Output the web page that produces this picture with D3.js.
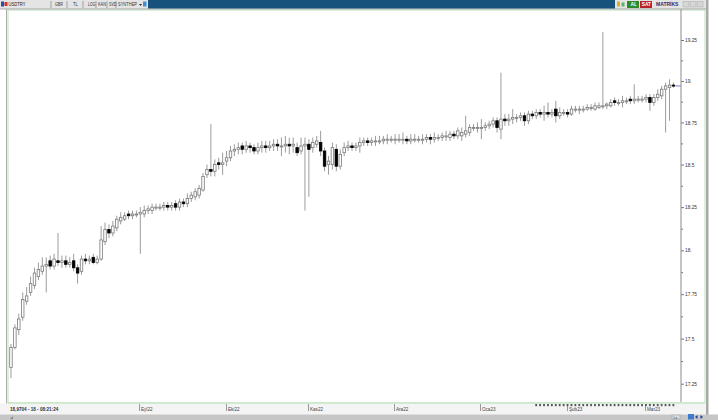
<!DOCTYPE html>
<html><head><meta charset="utf-8">
<script src="https://cdn.jsdelivr.net/npm/d3@7"></script>
<style>
html,body{margin:0;padding:0;background:#fff;overflow:hidden;}
svg{display:block;font-family:"Liberation Sans",Arial,sans-serif;}
</style></head><body>
<svg id="c" width="718" height="420"></svg>
<script>
// ---------------- DATA ----------------
const symbol = "USDTRY";
const firstDay = "2022-07-18";           // first trading day shown (weekday bars)
const barCount = 170;
const open = [17.34,17.45,17.55,17.62,17.71,17.76,17.80,17.85,17.88,17.91,
17.94,17.91,17.94,17.93,17.94,17.92,17.94,17.90,17.88,17.95,
17.94,17.96,17.93,17.95,18.05,18.12,18.10,18.13,18.17,18.18,
18.21,18.20,18.21,18.21,18.21,18.23,18.23,18.25,18.25,18.25,
18.26,18.25,18.27,18.25,18.28,18.27,18.30,18.31,18.32,18.35,
18.44,18.47,18.46,18.51,18.50,18.52,18.54,18.58,18.59,18.61,
18.59,18.61,18.60,18.58,18.60,18.61,18.60,18.61,18.62,18.61,
18.61,18.62,18.61,18.60,18.58,18.61,18.62,18.60,18.62,18.63,
18.58,18.50,18.50,18.59,18.49,18.57,18.60,18.61,18.60,18.61,
18.63,18.64,18.63,18.64,18.64,18.64,18.65,18.65,18.65,18.65,
18.65,18.65,18.64,18.65,18.65,18.65,18.65,18.66,18.65,18.66,
18.66,18.67,18.66,18.68,18.67,18.67,18.68,18.69,18.72,18.72,
18.72,18.72,18.73,18.74,18.76,18.71,18.77,18.76,18.77,18.78,
18.78,18.79,18.76,18.80,18.79,18.81,18.80,18.81,18.80,18.83,
18.79,18.81,18.81,18.80,18.83,18.83,18.83,18.83,18.84,18.83,
18.84,18.85,18.85,18.85,18.88,18.87,18.87,18.88,18.89,18.88,
18.89,18.89,18.89,18.90,18.87,18.90,18.91,18.95,18.96,18.975];
const high = [17.47,17.58,17.64,17.76,17.79,17.85,17.90,17.93,17.96,17.96,
17.97,17.98,18.10,17.97,17.97,17.96,17.98,17.92,17.97,17.98,
17.97,17.98,17.97,18.14,18.16,18.15,18.17,18.20,18.22,18.22,
18.23,18.23,18.23,18.25,18.26,18.26,18.27,18.27,18.27,18.28,
18.28,18.28,18.29,18.30,18.30,18.33,18.34,18.36,18.38,18.45,
18.50,18.74,18.53,18.54,18.57,18.58,18.61,18.62,18.63,18.63,
18.64,18.63,18.62,18.63,18.64,18.64,18.64,18.65,18.65,18.66,
18.67,18.66,18.66,18.63,18.66,18.66,18.65,18.66,18.67,18.70,
18.60,18.55,18.63,18.62,18.59,18.63,18.64,18.63,18.63,18.66,
18.66,18.66,18.66,18.67,18.67,18.67,18.68,18.67,18.68,18.68,
18.69,18.67,18.68,18.68,18.67,18.68,18.68,18.68,18.69,18.68,
18.69,18.70,18.70,18.70,18.72,18.72,18.79,18.74,18.74,18.75,
18.77,18.75,18.76,18.78,18.78,19.05,18.80,18.80,18.83,18.80,
18.81,18.81,18.82,18.82,18.83,18.83,18.85,18.87,18.83,18.88,
18.84,18.83,18.83,18.85,18.85,18.85,18.85,18.86,18.86,18.87,
18.87,19.30,18.87,18.89,18.90,18.89,18.91,18.90,18.91,18.98,
18.91,18.91,18.92,18.92,18.92,18.95,18.97,18.99,19.01,18.99];
const low = [17.28,17.44,17.52,17.60,17.69,17.74,17.78,17.83,17.86,17.76,
17.89,17.89,17.91,17.90,17.90,17.90,17.88,17.81,17.86,17.92,
17.92,17.92,17.92,17.94,18.03,18.07,18.08,18.11,18.15,18.17,
18.18,18.18,18.19,17.98,18.19,18.21,18.21,18.23,18.23,18.23,
18.23,18.23,18.23,18.23,18.25,18.25,18.28,18.29,18.30,18.34,
18.42,18.43,18.43,18.47,18.44,18.49,18.52,18.55,18.56,18.56,
18.57,18.57,18.56,18.56,18.57,18.57,18.58,18.58,18.58,18.55,
18.57,18.56,18.57,18.55,18.56,18.23,18.31,18.57,18.60,18.55,
18.46,18.44,18.47,18.46,18.47,18.55,18.58,18.58,18.58,18.57,
18.61,18.61,18.61,18.61,18.62,18.62,18.62,18.63,18.62,18.63,
18.62,18.62,18.62,18.63,18.63,18.62,18.63,18.62,18.63,18.64,
18.64,18.64,18.64,18.65,18.65,18.64,18.66,18.67,18.70,18.69,
18.65,18.70,18.71,18.72,18.69,18.65,18.73,18.73,18.74,18.75,
18.76,18.73,18.74,18.77,18.77,18.78,18.76,18.78,18.78,18.75,
18.77,18.79,18.78,18.79,18.81,18.80,18.81,18.82,18.82,18.82,
18.83,18.83,18.83,18.84,18.85,18.85,18.84,18.86,18.86,18.86,
18.87,18.87,18.87,18.82,18.85,18.88,18.89,18.69,18.76,18.96];
const close = [17.45,17.56,17.61,17.72,17.74,17.81,17.87,17.89,17.91,17.92,
17.91,17.95,17.93,17.94,17.92,17.93,17.90,17.87,17.95,17.94,
17.95,17.93,17.95,18.06,18.12,18.10,18.14,18.18,18.19,18.20,
18.20,18.21,18.21,18.22,18.23,18.24,18.25,18.25,18.25,18.26,
18.25,18.26,18.25,18.28,18.27,18.30,18.32,18.34,18.36,18.43,
18.47,18.46,18.50,18.50,18.51,18.54,18.58,18.59,18.60,18.59,
18.61,18.60,18.58,18.60,18.61,18.60,18.61,18.62,18.61,18.61,
18.62,18.61,18.62,18.57,18.61,18.62,18.59,18.63,18.64,18.58,
18.49,18.52,18.60,18.49,18.56,18.60,18.61,18.60,18.61,18.63,
18.64,18.63,18.64,18.64,18.64,18.65,18.65,18.65,18.65,18.65,
18.65,18.64,18.65,18.65,18.65,18.65,18.66,18.65,18.66,18.66,
18.67,18.67,18.68,18.67,18.70,18.69,18.70,18.72,18.72,18.72,
18.72,18.73,18.74,18.76,18.72,18.77,18.76,18.77,18.78,18.78,
18.79,18.76,18.80,18.79,18.81,18.80,18.81,18.80,18.81,18.79,
18.81,18.81,18.80,18.83,18.83,18.83,18.83,18.84,18.84,18.85,
18.85,18.85,18.86,18.87,18.87,18.87,18.88,18.88,18.88,18.89,
18.89,18.89,18.90,18.87,18.90,18.92,18.95,18.97,18.975,18.97];
const yTicks = [17.25,17.5,17.75,18,18.25,18.5,18.75,19,19.25];
const yMinorTicks = [17.375,17.625,17.875,18.125,18.375,18.625,18.875,19.125];
const monthNames = ["Oca","Şub","Mar","Nis","May","Haz","Tem","Ağu","Eyl","Eki","Kas","Ara"];
const eventFrom = 134;   // first bar with event marker on the time strip
const infoText = "18,9704 - 18 - 08:21:24";
const toolbarLeft = [["GBR",55,8],["TL",73,5],["LOG",88,7.5],["KAN",98,8],["SVD",109,7.5],["SYNTHEP",118,19]];

// ---------------- BUILD ----------------
const dates = d3.utcDay.range(new Date(firstDay+"T00:00:00Z"), new Date("2023-12-31T00:00:00Z"))
  .filter(d => d.getUTCDay() !== 0 && d.getUTCDay() !== 6).slice(0, barCount);
const bars = dates.map((d,i)=>({i, d, o:open[i], h:high[i], l:low[i], c:close[i]}));

const svg = d3.select("#c");
const PL = 8, PR = 705, PT = 10, PB = 403, AX = 681;

const x = d3.scaleBand().domain(d3.range(barCount)).range([9, 9 + barCount*3.92]).padding(0);
const y = d3.scaleLog().domain([17.25, 19.25]).range([383.7, 40]);

// background frame
svg.append("rect").attr("x",0).attr("y",0).attr("width",718).attr("height",420).attr("fill","#ffffff");
svg.append("rect").attr("x",PL).attr("y",PT).attr("width",PR-PL).attr("height",PB-PT).attr("fill","#fff")
  .attr("stroke","#b9e2b9").attr("stroke-width",1);
svg.append("line").attr("x1",6.5).attr("x2",6.5).attr("y1",9).attr("y2",414).attr("stroke","#b0b0b0");
svg.append("rect").attr("x",706).attr("y",0).attr("width",2.5).attr("height",420).attr("fill","#a9a9a9");

// bottom strip
svg.append("rect").attr("x",0).attr("y",PB+0.5).attr("width",706).attr("height",11).attr("fill","#f4f4f4");
svg.append("line").attr("x1",PL).attr("x2",PR).attr("y1",PB).attr("y2",PB).attr("stroke","#b9e2b9");
svg.append("rect").attr("x",0).attr("y",414.5).attr("width",718).attr("height",5.5).attr("fill","#c6c6c6");

// clip for plot
svg.append("clipPath").attr("id","pc").append("rect").attr("x",PL+1).attr("y",PT).attr("width",AX-PL-1).attr("height",PB-PT);
const g = svg.append("g").attr("clip-path","url(#pc)");

// candles
const cx = i => x(i) + x.bandwidth()/2;
g.selectAll("line.w").data(bars).join("line").attr("class","w")
  .attr("x1",d=>cx(d.i)).attr("x2",d=>cx(d.i))
  .attr("y1",d=>y(d.h)).attr("y2",d=>y(d.l))
  .attr("stroke","#9c9c9c").attr("stroke-width",1);
g.selectAll("rect.b").data(bars).join("rect").attr("class","b")
  .attr("x",d=>cx(d.i)-1.25).attr("width",2.5)
  .attr("y",d=>y(Math.max(d.o,d.c)))
  .attr("height",d=>Math.max(1, y(Math.min(d.o,d.c)) - y(Math.max(d.o,d.c))))
  .attr("fill",d=> d.c < d.o ? "#000" : "#fff")
  .attr("stroke",d=> d.c < d.o ? "#000" : "#7a7a7a").attr("stroke-width",0.8);

// last price marker
const last = bars[bars.length-1];
svg.append("line").attr("x1",cx(last.i)+2).attr("x2",AX).attr("y1",y(last.c)).attr("y2",y(last.c))
  .attr("stroke","#7f7fc8").attr("stroke-width",1);

// right axis
const fmt = v => Number.isInteger(v) ? v + "." : String(v);
const ya = svg.append("g").attr("transform",`translate(${AX},0)`)
  .call(d3.axisRight(y).tickValues(yTicks).tickSize(3).tickPadding(1).tickFormat(fmt));
ya.select(".domain").remove();
ya.selectAll("text").attr("font-size","4.8px").attr("fill","#333").attr("font-family","Liberation Sans, Arial, sans-serif");
ya.selectAll("line").attr("stroke","#777");
const ym = svg.append("g").attr("transform",`translate(${AX},0)`)
  .call(d3.axisRight(y).tickValues(yMinorTicks).tickSize(2).tickFormat(""));
ym.select(".domain").remove();
ym.selectAll("line").attr("stroke","#777");
svg.append("line").attr("x1",AX).attr("x2",AX).attr("y1",PT-1).attr("y2",PB-1).attr("stroke","#8a8a8a");

// time axis: first trading day of each month (the first one sits under the info box)
const monthStarts = bars.filter((b,k)=> k>0 && b.d.getUTCMonth() !== bars[k-1].d.getUTCMonth())
  .filter(b => x(b.i) > 75);
const xa = svg.append("g");
monthStarts.forEach(b=>{
  const px = Math.round(x(b.i)) + 1.5;
  xa.append("line").attr("x1",px).attr("x2",px).attr("y1",PB+1).attr("y2",PB+8).attr("stroke","#999");
  xa.append("text").attr("x",px+1.5).attr("y",PB+7.5).attr("font-size","4.6px").attr("fill","#444")
    .text(monthNames[b.d.getUTCMonth()] + String(b.d.getUTCFullYear()).slice(2));
});
// event markers
xa.selectAll("rect.ev").data(bars.filter(b=>b.i>=eventFrom)).join("rect").attr("class","ev")
  .attr("x",d=>x(d.i)+1).attr("y",PB+1).attr("width",1.8).attr("height",2.2).attr("fill","#555");

// info box
svg.append("text").attr("x",10).attr("y",PB+7.5).attr("font-size","4.6px").attr("font-weight","bold")
  .attr("fill","#333").text(infoText);
svg.append("path").attr("d","M10,419 L13,416 L13,419 Z").attr("fill","#888");

// bottom-right controls
svg.append("rect").attr("x",672).attr("y",415).attr("width",8).attr("height",4).attr("fill","#ddd").attr("stroke","#999").attr("stroke-width",0.5);
svg.append("text").attr("x",673.5).attr("y",418.5).attr("font-size","3.5px").attr("fill","#333").text("Lx");
svg.append("rect").attr("x",688).attr("y",414).attr("width",6).attr("height",5.5).attr("fill","#3d7bd0");
svg.append("path").attr("d","M695,417 l2.5,-2 v4 z M703,417 l-2.5,-2 v4 z").attr("fill","#1e3f9a");

// ---------------- TOOLBAR ----------------
const tb = svg.append("g");
tb.append("rect").attr("x",0).attr("y",0).attr("width",706).attr("height",9).attr("fill","#e4e4e4");
tb.append("line").attr("x1",0).attr("x2",706).attr("y1",9).attr("y2",9).attr("stroke","#a8a8a8");
tb.append("rect").attr("x",1).attr("y",1.5).attr("width",3).attr("height",5).attr("fill","#2a4fa8");
tb.append("rect").attr("x",4.5).attr("y",2).attr("width",3).attr("height",4).attr("fill","#d23030");
tb.append("text").attr("x",8.5).attr("y",6.2).attr("font-size","4.5px").attr("fill","#222")
  .attr("textLength",17).attr("lengthAdjust","spacingAndGlyphs").text(symbol);
[51,67,83,96,107,116].forEach(s=> tb.append("line").attr("x1",s).attr("x2",s).attr("y1",1).attr("y2",8).attr("stroke","#a0a0a0"));
toolbarLeft.forEach(([t,px,w])=> tb.append("text").attr("x",px).attr("y",6.2).attr("font-size","4.5px").attr("fill","#333")
  .attr("textLength",w).attr("lengthAdjust","spacingAndGlyphs").text(t));
tb.append("path").attr("d","M139,4 h3 l-1.5,2 z").attr("fill","#333");
tb.append("rect").attr("x",143).attr("y",1.5).attr("width",3.5).attr("height",5).attr("fill","#3c8fd8");
tb.append("rect").attr("x",148).attr("y",0).attr("width",467).attr("height",8.5).attr("fill","#17527c");
tb.append("rect").attr("x",617).attr("y",1.5).attr("width",3).attr("height",5).attr("fill","#d8b030");
tb.append("rect").attr("x",621.5).attr("y",2.5).attr("width",3).attr("height",4).attr("fill","#60b060");
tb.append("rect").attr("x",627).attr("y",1).attr("width",12).attr("height",7).attr("fill","#2c8a2c");
tb.append("text").attr("x",630.5).attr("y",6.3).attr("font-size","4.8px").attr("fill","#fff").attr("font-weight","bold").text("AL");
tb.append("rect").attr("x",640).attr("y",1).attr("width",12).attr("height",7).attr("fill","#b8222a");
tb.append("text").attr("x",641.8).attr("y",6.3).attr("font-size","4.8px").attr("fill","#fff").attr("font-weight","bold").text("SAT");
tb.append("text").attr("x",656).attr("y",6.3).attr("font-size","5px").attr("fill","#2b2b70").attr("font-weight","bold").text("MATRİKS");
[683,690,697].forEach(s=> tb.append("rect").attr("x",s).attr("y",1.5).attr("width",6).attr("height",5.5)
  .attr("fill","#d6d6d6").attr("stroke","#aaa").attr("stroke-width",0.5));
</script>
</body></html>
